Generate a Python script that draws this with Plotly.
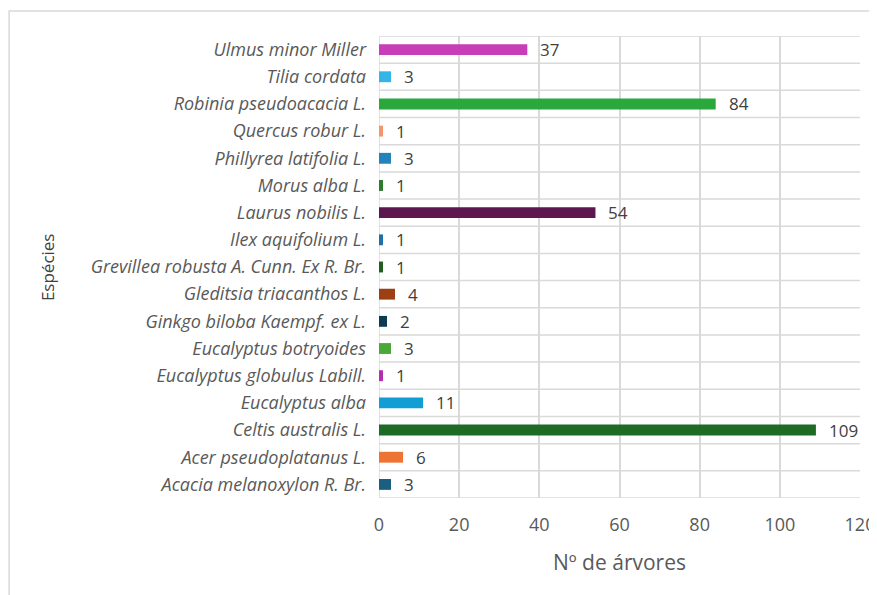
import plotly.graph_objects as go

species = [
    "Acacia melanoxylon R. Br.",
    "Acer pseudoplatanus L.",
    "Celtis australis L.",
    "Eucalyptus alba",
    "Eucalyptus globulus Labill.",
    "Eucalyptus botryoides",
    "Ginkgo biloba Kaempf. ex L.",
    "Gleditsia triacanthos L.",
    "Grevillea robusta A. Cunn. Ex R. Br.",
    "Ilex aquifolium L.",
    "Laurus nobilis L.",
    "Morus alba L.",
    "Phillyrea latifolia L.",
    "Quercus robur L.",
    "Robinia pseudoacacia L.",
    "Tilia cordata",
    "Ulmus minor Miller",
]
counts = [3, 6, 109, 11, 1, 3, 2, 4, 1, 1, 54, 1, 3, 1, 84, 3, 37]
colors = [
    "#1A5E80", "#EE7433", "#1D6B25", "#129ED4", "#B030B0", "#4AA838",
    "#0E3A55", "#9C3F12", "#1F5E1F", "#2070A8", "#5E1650", "#2E7A2E",
    "#2483BA", "#F4956A", "#2BA83B", "#33B5E8", "#C83DB8",
]
x_ticks = [0, 20, 40, 60, 80, 100, 120]

FONT = "Open Sans"

fig = go.Figure()
fig.add_trace(go.Bar(
    x=counts, y=species, orientation="h",
    marker=dict(color=colors, line=dict(width=0)),
    hoverinfo="x+y",
))

annotations = []
for s, c in zip(species, counts):
    annotations.append(dict(
        x=c, y=s, xref="x", yref="y", text=str(c), showarrow=False,
        xanchor="left", yanchor="middle", xshift=11,
        font=dict(family=FONT, size=17, color="#404040"),
    ))
annotations.append(dict(
    x=0.5, y=-0.138, xref="paper", yref="paper", text="Nº de árvores",
    showarrow=False, xanchor="center", yanchor="middle",
    font=dict(family=FONT, size=21, color="#595959"),
))
annotations.append(dict(
    x=-0.69, y=0.5, xref="paper", yref="paper", text="Espécies",
    showarrow=False, xanchor="center", yanchor="middle", textangle=-90,
    font=dict(family=FONT, size=17, color="#404040"),
))

fig.update_layout(
    width=869, height=587,
    margin=dict(l=371, r=17, t=28, b=97, autoexpand=False),
    paper_bgcolor="white", plot_bgcolor="white",
    showlegend=False,
    bargap=0.6,
    annotations=annotations,
    shapes=[dict(
        type="rect", xref="paper", yref="paper",
        x0=-0.769, x1=1.2, y0=-0.3, y1=1.054,
        line=dict(color="#d9d9d9", width=1.5), fillcolor="rgba(0,0,0,0)",
        layer="below",
    )],
    xaxis=dict(
        range=[0, 120], tickvals=x_ticks, ticktext=[str(t) for t in x_ticks],
        showgrid=True, gridcolor="#d9d9d9", gridwidth=1.5,
        zeroline=False, showline=False, ticks="",
        ticklabelstandoff=14,
        tickfont=dict(family=FONT, size=18, color="#595959"),
        fixedrange=True,
    ),
    yaxis=dict(
        categoryorder="array", categoryarray=species,
        showgrid=False, zeroline=False, showline=False, ticks="",
        ticklabelstandoff=12,
        tickfont=dict(family=FONT, size=18, color="#595959", style="italic"),
        range=[-0.5, len(species) - 0.5],
        fixedrange=True,
    ),
)

for i in range(len(species) + 1):
    fig.add_shape(type="line", xref="paper", yref="y", x0=0, x1=1,
                  y0=i - 0.5, y1=i - 0.5,
                  line=dict(color="#d9d9d9", width=1.5), layer="below")
fig.add_shape(type="line", xref="x", yref="paper", x0=0, x1=0, y0=0, y1=1,
              line=dict(color="#d9d9d9", width=1.5), layer="below")

fig.write_html("out.html")
